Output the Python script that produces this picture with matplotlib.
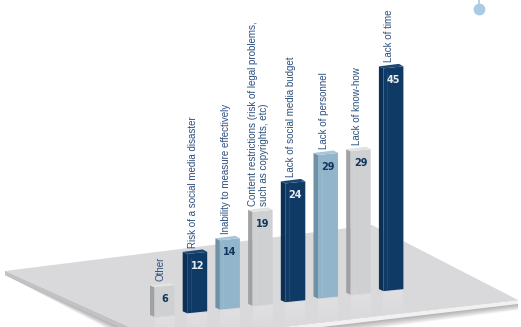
import numpy as np
import matplotlib
matplotlib.use('Agg')
import matplotlib.pyplot as plt

labels = ['Other', 'Risk of a social media disaster', 'Inability to measure effectively',
          'Content restrictions (risk of legal problems,\nsuch as copyrights, etc)',
          'Lack of social media budget', 'Lack of personnel', 'Lack of know-how', 'Lack of time']
values = [6, 12, 14, 19, 24, 29, 29, 45]
styles = ['grey', 'navy', 'blue', 'grey', 'navy', 'blue', 'grey', 'navy']

colours = {
    'navy': dict(front='#0f3a66', side='#0b2f55', top='#1c4673', num='#e8edf2'),
    'blue': dict(front='#92b5cb', side='#6e91a6', top='#a9c6d8', num='#12365c'),
    'grey': dict(front='#cfd0d2', side='#a0a1a3', top='#e2e2e3', num='#12365c'),
}

# the bars stand on a tilted plate, so each one starts a bit higher and further right
PX_PER_UNIT = 4.95
SPACING = 32.7
LEFT0 = 150.0
BASE0 = 317.0
BASE_STEP = -3.7
SIDE = 4.5
FRONT = 20.0
SKEW = 2.0

plate = [(5, 271), (372, 225), (518, 300), (160, 341)]
left_edge = [(5, 271), (5, 275), (160, 346), (160, 341)]
right_edge = [(160, 341), (160, 346), (518, 304), (518, 300)]
COL_PLATE = '#d9d9db'
COL_TEXT = '#2b4f7d'

plt.rcParams['font.family'] = ['Liberation Sans', 'DejaVu Sans']

fig = plt.figure(figsize=(5.21, 3.27), dpi=100)
ax = fig.add_axes([0, 0, 1, 1])
ax.set_xlim(0, 521)
ax.set_ylim(327, 0)
ax.axis('off')

# soft shadow under the near edges of the plate
for k in range(8):
    d = 1 + k * 1.3
    ax.fill([5, 160, 518, 518, 160, 5],
            [275, 346 + d, 304 + d * 0.6, 300, 341, 271],
            color='#444444', alpha=0.06, lw=0, zorder=1)
ax.fill(*zip(*left_edge), color='#c2c2c4', lw=0, zorder=2)
ax.fill(*zip(*right_edge), color='#f1f1f2', lw=0, zorder=2)
ax.fill(*zip(*plate), color=COL_PLATE, lw=0, zorder=2)

for i, (lab, val, st) in enumerate(zip(labels, values, styles)):
    c = colours[st]
    left = LEFT0 + i * SPACING
    fx0 = left + SIDE
    fx1 = fx0 + FRONT
    base = BASE0 + i * BASE_STEP
    h = val * PX_PER_UNIT

    # reflection on the plate, fading downwards
    for k in range(6):
        ax.fill([fx0, fx1, fx1, fx0],
                [base + 1, base - SKEW + 1, base - SKEW + 4 * (6 - k), base + 4 * (6 - k)],
                color='white', alpha=0.05, lw=0, zorder=3)

    ax.fill([left, fx0, fx0, left], [base - 2, base, base - h, base - h - 2],
            color=c['side'], lw=0, zorder=4)
    ax.fill([fx0, fx1, fx1, fx0], [base, base - SKEW, base - SKEW - h, base - h],
            color=c['front'], lw=0, zorder=4)
    ax.fill([left, fx0, fx1, fx1 - SIDE],
            [base - h - 2, base - h, base - SKEW - h, base - SKEW - h - 2.5],
            color=c['top'], lw=0, zorder=4)
    # faint highlight running down the front face
    ax.plot([fx0 + 3.5, fx0 + 3.5], [base - h + 4, base - 3], color='white',
            alpha=0.08, lw=0.7, zorder=4)

    ax.text((fx0 + fx1) / 2, base - h + 12, str(val), color=c['num'], fontsize=7,
            fontweight='bold', family=['DejaVu Sans'],
            ha='center', va='center', zorder=5)
    ax.text(left + 10.5, base - h - 6, lab, color=COL_TEXT, fontsize=7.0, rotation=90,
            ha='center', va='bottom', multialignment='left', linespacing=1.15, zorder=5)

# marker hanging from the top edge
ax.plot([479, 479], [0, 9], color='#a9cbe3', lw=1.2, zorder=2)
ax.plot([479], [9], 'o', color='#a9cbe3', ms=8.5, mew=0, zorder=2)

fig.savefig('out.png', dpi=100)
